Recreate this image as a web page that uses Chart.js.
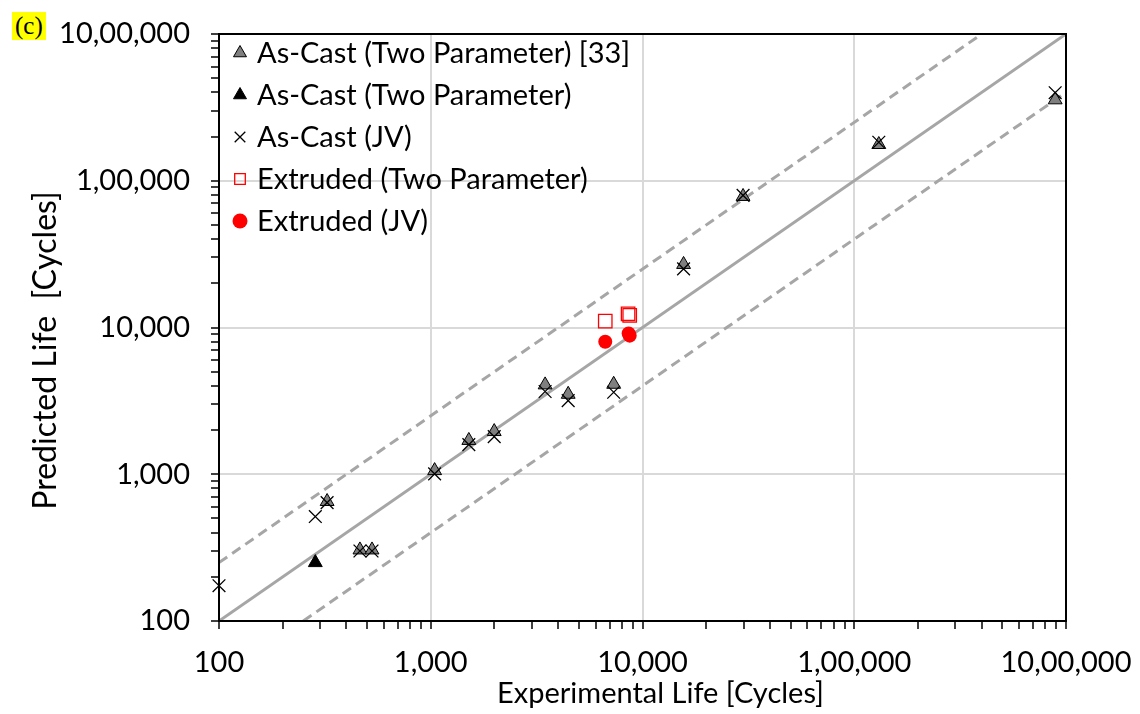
<!DOCTYPE html>
<html>
<head>
<meta charset="utf-8">
<script src="https://cdn.jsdelivr.net/npm/chart.js@4/dist/chart.umd.min.js"></script>
<style>
  body { margin: 0; background: #fff; }
  #wrap { position: relative; width: 1140px; height: 714px; }
  #tag {
    position: absolute; left: 12px; top: 12px;
    background: #ffff00; font-family: 'Liberation Serif', serif;
    font-size: 25px; line-height: 28px; padding: 0 3px;
  }
</style>
</head>
<body>
<div id="wrap">
  <canvas id="lifeChart" width="1140" height="714"></canvas>
  <div id="tag">(c)</div>
</div>
<script>
// Axis ticks (log scale, Indian digit grouping)
const majorTicks = [100, 1000, 10000, 100000, 1000000];
const tickLabels = ['100', '1,000', '10,000', '1,00,000', '10,00,000'];
const minorSteps = [2, 3, 4, 5, 6, 7, 8, 9];

// As-Cast (Two Parameter) [33]
const refExp  = [324, 463, 528, 1043, 1513, 1994, 3468, 4457, 7310, 15630, 29850, 130600, 889000];
const refPred = [652, 305, 305, 1059, 1700, 1954, 4064, 3507, 4103, 26900, 78200, 176600, 356000];

// As-Cast (Two Parameter)
const castExp  = [285];
const castPred = [250];

// As-Cast (JV)
const jvExp  = [100, 285, 324, 463, 528, 1043, 1513, 1994, 3468, 4457, 7310, 15630, 29850, 130600, 889000];
const jvPred = [174, 515, 640, 300, 300, 1007, 1593, 1806, 3664, 3175, 3622, 25100, 79500, 183000, 398000];

// Extruded (Two Parameter)
const extTwoExp  = [6670, 8550, 8700];
const extTwoPred = [11050, 12400, 12100];

// Extruded (JV)
const extJvExp  = [6670, 8600, 8700];
const extJvPred = [8000, 9100, 8800];

// 1:1 line and factor-of-2.5 bands
const unityX = [100, 1000000];
const unityY = [100, 1000000];
const upperX = [100, 400000];
const upperY = [250, 1000000];
const lowerX = [250, 1000000];
const lowerY = [100, 400000];

const legendLabels = [
    'As-Cast (Two Parameter) [33]',
    'As-Cast (Two Parameter)',
    'As-Cast (JV)',
    'Extruded (Two Parameter)',
    'Extruded (JV)'
];
const xTitle = 'Experimental Life [Cycles]';
const yTitle = 'Predicted Life  [Cycles]';

const FONT = "Lato, 'Noto Sans', sans-serif";

function pts(xs, ys) {
    return xs.map((x, i) => ({ x: x, y: ys[i] }));
}

function allTicks() {
    const out = [];
    majorTicks.forEach((m, i) => {
        out.push({ value: m, major: true });
        if (i < majorTicks.length - 1) {
            minorSteps.forEach(s => out.push({ value: m * s, major: false }));
        }
    });
    return out;
}

// Legend drawn inside the plot, top-left
const insideLegend = {
    id: 'insideLegend',
    afterDatasetsDraw(chart) {
        const ctx = chart.ctx;
        const area = chart.chartArea;
        ctx.save();
        ctx.font = '29px ' + FONT;
        ctx.textBaseline = 'middle';
        legendLabels.forEach((text, i) => {
            const ds = chart.data.datasets[i];
            const y = area.top + 19 + i * 42;
            ctx.fillStyle = ds.backgroundColor;
            ctx.strokeStyle = ds.borderColor;
            ctx.lineWidth = ds.borderWidth;
            Chart.helpers.drawPoint(ctx, {
                pointStyle: ds.pointStyle, radius: 7.5, rotation: 0, borderWidth: ds.borderWidth
            }, area.left + 21, y);
            ctx.fillStyle = '#000';
            ctx.fillText(text, area.left + 38, y + 1);
        });
        ctx.restore();
    }
};

// Box round the plot area, plus the two axis titles
const plotFrame = {
    id: 'plotFrame',
    afterDraw(chart) {
        const a = chart.chartArea;
        const ctx = chart.ctx;
        ctx.save();
        ctx.strokeStyle = '#000';
        ctx.lineWidth = 2;
        ctx.strokeRect(a.left, a.top, a.right - a.left, a.bottom - a.top);

        ctx.fillStyle = '#000';
        ctx.textAlign = 'center';
        ctx.textBaseline = 'middle';
        ctx.font = '29px ' + FONT;
        ctx.fillText(xTitle, (a.left + a.right) / 2 + 18, 694);
        ctx.translate(46, (a.top + a.bottom) / 2 + 23);
        ctx.rotate(-Math.PI / 2);
        ctx.font = '32px ' + FONT;
        ctx.fillText(yTitle, 0, 0);
        ctx.restore();
    }
};

document.addEventListener('DOMContentLoaded', function () {
    const ctx = document.getElementById('lifeChart').getContext('2d');

    const gridColor = c => (c.tick && majorTicks.includes(c.tick.value)) ? '#d9d9d9' : 'rgba(0,0,0,0)';
    const tickText = value => {
        const i = majorTicks.indexOf(value);
        return i >= 0 ? tickLabels[i] : '';
    };

    new Chart(ctx, {
        type: 'scatter',
        data: {
            datasets: [
                {
                    label: legendLabels[0],
                    data: pts(refExp, refPred),
                    pointStyle: 'triangle',
                    pointRadius: 8,
                    backgroundColor: '#7f7f7f',
                    borderColor: '#000',
                    borderWidth: 1,
                    order: 3,
                    clip: false
                },
                {
                    label: legendLabels[1],
                    data: pts(castExp, castPred),
                    pointStyle: 'triangle',
                    pointRadius: 8,
                    backgroundColor: '#000',
                    borderColor: '#000',
                    borderWidth: 1,
                    order: 2,
                    clip: false
                },
                {
                    label: legendLabels[2],
                    data: pts(jvExp, jvPred),
                    pointStyle: 'crossRot',
                    pointRadius: 9,
                    backgroundColor: '#000',
                    borderColor: '#000',
                    borderWidth: 1.3,
                    order: 1,
                    clip: false
                },
                {
                    label: legendLabels[3],
                    data: pts(extTwoExp, extTwoPred),
                    pointStyle: 'rect',
                    pointRadius: 9.5,
                    backgroundColor: 'rgba(255,255,255,0)',
                    borderColor: '#ff0000',
                    borderWidth: 1.3,
                    order: 1,
                    clip: false
                },
                {
                    label: legendLabels[4],
                    data: pts(extJvExp, extJvPred),
                    pointStyle: 'circle',
                    pointRadius: 7,
                    backgroundColor: '#ff0000',
                    borderColor: '#ff0000',
                    borderWidth: 0,
                    order: 1,
                    clip: false
                },
                {
                    type: 'line',
                    data: pts(unityX, unityY),
                    borderColor: '#a6a6a6',
                    borderWidth: 3,
                    pointRadius: 0,
                    order: 10
                },
                {
                    type: 'line',
                    data: pts(upperX, upperY),
                    borderColor: '#a6a6a6',
                    borderWidth: 3,
                    borderDash: [10, 6],
                    pointRadius: 0,
                    order: 10
                },
                {
                    type: 'line',
                    data: pts(lowerX, lowerY),
                    borderColor: '#a6a6a6',
                    borderWidth: 3,
                    borderDash: [10, 6],
                    pointRadius: 0,
                    order: 10
                }
            ]
        },
        options: {
            responsive: false,
            animation: false,
            layout: { padding: { left: 0, top: 34, right: 74, bottom: 0 } },
            plugins: {
                legend: { display: false },
                tooltip: { enabled: false }
            },
            scales: {
                x: {
                    type: 'logarithmic',
                    min: 100,
                    max: 1000000,
                    afterBuildTicks: scale => { scale.ticks = allTicks(); },
                    afterFit: scale => {
                        scale.height = 93;
                        scale.paddingLeft = 0;
                        scale.paddingRight = 0;
                    },
                    border: { color: '#000', width: 2 },
                    grid: { color: gridColor, lineWidth: 2, tickColor: '#000', tickLength: 8, tickWidth: 1.5 },
                    ticks: {
                        autoSkip: false,
                        maxRotation: 0,
                        padding: 16,
                        color: '#000',
                        font: { family: FONT, size: 29 },
                        callback: tickText
                    }
                },
                y: {
                    type: 'logarithmic',
                    min: 100,
                    max: 1000000,
                    afterBuildTicks: scale => { scale.ticks = allTicks(); },
                    afterFit: scale => {
                        scale.width = 219;
                        scale.paddingTop = 0;
                        scale.paddingBottom = 0;
                    },
                    border: { color: '#000', width: 2 },
                    grid: { color: gridColor, lineWidth: 2, tickColor: '#000', tickLength: 8, tickWidth: 1.5 },
                    ticks: {
                        autoSkip: false,
                        padding: 21,
                        color: '#000',
                        font: { family: FONT, size: 29 },
                        callback: tickText
                    }
                }
            }
        },
        plugins: [insideLegend, plotFrame]
    });
});
</script>
</body>
</html>
